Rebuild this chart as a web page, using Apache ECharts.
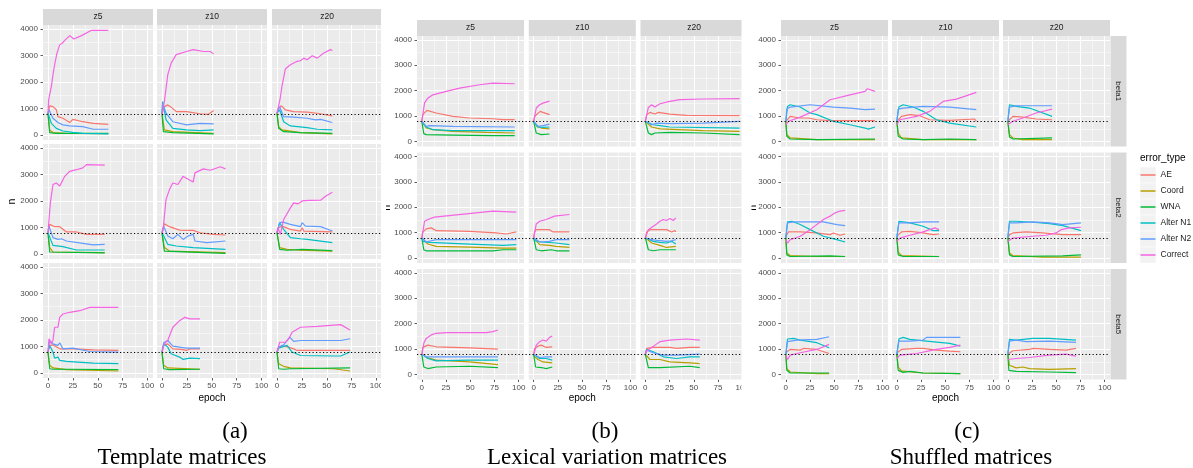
<!DOCTYPE html>
<html>
<head>
<meta charset="utf-8">
<title>error types per epoch</title>
<script src="https://cdn.jsdelivr.net/npm/echarts@6.0.0/dist/echarts.min.js"></script>
<style>
  html, body { margin: 0; padding: 0; background: #fff; }
  #chart { width: 1193px; height: 468px; }
</style>
</head>
<body>
<div id="chart"></div>
<script>
// ---- categories / labels ----
var seriesNames = ['AE', 'Coord', 'WNA', 'Alter N1', 'Alter N2', 'Correct'];
var seriesColors = ['#F8766D', '#B79F00', '#00BA38', '#00BFC4', '#619CFF', '#F564E3'];
var colLabels = ['z5', 'z10', 'z20'];
var rowLabels = ['beta1', 'beta2', 'beta5'];
var xTicks = [0, 25, 50, 75, 100];
var xMinor = [12.5, 37.5, 62.5, 87.5];
var yTicks = [0, 1000, 2000, 3000, 4000];
var yMinor = [500, 1500, 2500, 3500];
var refLevels = [780, 800, 800];
var captionTags = ['(a)', '(b)', '(c)'];
var captionTitles = ['Template matrices', 'Lexical variation matrices', 'Shuffled matrices'];

// facet order: beta1 z5, beta1 z10, beta1 z20, beta2 z5 ... beta5 z20 ; points are [epoch, n]
// ---- (a) template matrices ----
var tmplAE = [
  [[0,800],[1.7,1100],[5,1070],[8.4,950],[10,690],[15,630],[21.9,470],[25,590],[35,500],[45.5,440],[60.6,400]],
  [[0,820],[2.4,1070],[5.8,1135],[9.2,1050],[14.3,880],[24.6,880],[38.2,800],[46.8,780],[51.9,920]],
  [[0,820],[1.7,1010],[4.4,1100],[8.4,950],[16.8,880],[30.3,860],[40.4,820],[55.6,720]],
  [[0,800],[1.7,1115],[6.7,1030],[11.8,1030],[18.5,830],[28.6,830],[38.7,740],[57,740]],
  [[0,800],[2.4,1140],[7.5,1030],[17.7,900],[31.4,890],[38.2,800],[51.9,740],[63.8,715]],
  [[0,800],[1.7,990],[5,1050],[13.5,930],[23.6,865],[25.3,990],[26.9,865],[55.6,830]],
  [[0,790],[1.7,1040],[5,1060],[11.8,910],[25,910],[45.5,875],[70.7,850]],
  [[0,790],[1.7,1040],[5.8,1100],[10.9,910],[19.5,890],[24.6,850],[28,910],[38.2,910]],
  [[0,790],[1.7,975],[6.7,1010],[11.8,975],[16.8,910],[20.2,850],[73.4,850]]
];
var tmplCoord = [
  [[0,820],[1.7,190],[5,90],[18.5,63],[60.6,50]],
  [[0,820],[2.4,190],[10.9,125],[51.9,63]],
  [[0,820],[1.7,315],[5,190],[23.6,90],[55.6,40]],
  [[0,800],[1.7,240],[5,75],[57,50]],
  [[0,800],[2.4,240],[7.5,110],[63.8,50]],
  [[0,800],[2.7,240],[10.1,175],[23.6,140],[55.6,110]],
  [[0,790],[1.7,290],[5,190],[18.5,125],[70.7,75]],
  [[0,790],[1.7,290],[5.8,190],[38.2,140]],
  [[0,790],[1.7,350],[6.7,250],[13.5,190],[57.2,160],[73.4,75]]
];
var tmplWNA = [
  [[0,820],[1.7,90],[8.4,63],[60.6,63]],
  [[0,820],[1.4,125],[10.9,90],[51.9,40]],
  [[0,820],[1.7,250],[6.7,125],[23.6,90],[55.6,63]],
  [[0,800],[1.7,75],[57,40]],
  [[0,800],[2.4,110],[63.8,25]],
  [[0,800],[2.7,175],[10.1,140],[25.3,175],[55.6,125]],
  [[0,790],[1.7,160],[5,140],[18.5,140],[70.7,125]],
  [[0,790],[1.7,160],[7.5,125],[38.2,140]],
  [[0,790],[1.7,160],[6.7,140],[13.5,160],[73.4,190]]
];
var tmplN1 = [
  [[0,820],[3.4,440],[8.4,250],[15,150],[25,100],[35,63],[60.6,40]],
  [[0,820],[0.7,1260],[4.1,570],[10.9,250],[24.6,190],[38.2,165],[51.9,190]],
  [[0,820],[2.7,950],[6.7,500],[13.5,340],[30.3,280],[40.4,215],[55.6,190]],
  [[0,800],[1.7,740],[5,325],[15,275],[28.6,150],[57,150]],
  [[0,800],[1.7,680],[5.8,365],[14.3,300],[31.4,240],[63.8,175]],
  [[0,800],[2.7,1180],[6.7,930],[13.5,615],[23.6,575],[25.3,650],[30.3,550],[55.6,425]],
  [[0,790],[1.7,1040],[5,790],[6.7,560],[10,600],[11.8,475],[18.5,440],[45.5,375],[70.7,350]],
  [[0,790],[1.7,1100],[5.8,975],[9.2,725],[17.7,600],[21.2,510],[28,560],[38.2,540]],
  [[0,790],[1.7,940],[10.1,1040],[15.2,790],[23.6,660],[57.2,640],[64,640],[73.4,790]]
];
var tmplN2 = [
  [[0,820],[1,950],[5,630],[10,470],[15,380],[21.9,340],[35,315],[45.5,215],[60.6,215]],
  [[0,820],[0.7,1200],[4.1,820],[10.9,500],[24.6,380],[38.2,440],[51.9,415]],
  [[0,820],[2.7,1070],[6.7,690],[16.8,670],[30.3,630],[38.7,570],[43.8,590],[55.6,470]],
  [[0,800],[1,1050],[5,615],[10,550],[13.5,575],[18.5,490],[35,400],[45.5,340],[57,365]],
  [[0,800],[1.7,1050],[5.8,680],[10.9,575],[16,740],[21.2,550],[26.3,680],[31.4,740],[33.1,490],[45,425],[63.8,490]],
  [[0,800],[2.7,1180],[6,1200],[13.5,1115],[23.6,1030],[25.3,1180],[28.6,1050],[43.8,1030],[55.6,865]],
  [[0,790],[1.7,1225],[5,1100],[10,1040],[11.8,1140],[15,910],[25,940],[42,810],[70.7,790]],
  [[0,790],[1.7,1140],[5.8,1225],[10.9,1010],[24.6,940],[38.2,940]],
  [[0,790],[1.7,975],[6.7,1060],[10.1,1225],[12.8,1350],[16.8,1190],[23.6,1225],[64,1225],[73.4,1290]]
];
var tmplCorrect = [
  [[0,820],[0.7,1330],[3.4,1830],[5,2270],[6.7,2650],[9,3090],[11.8,3400],[14.5,3470],[16.8,3570],[21.9,3750],[26,3620],[33.7,3750],[43.8,3950],[60.6,3950]],
  [[0,760],[2.4,1260],[5.8,2270],[9.2,2710],[14.3,3030],[24.6,3150],[31.4,3220],[41.6,3150],[48.5,3150],[51.9,3060]],
  [[0,820],[3,1330],[5,1830],[8.4,2490],[13.5,2650],[20.2,2780],[23.6,2800],[26.9,2900],[30.3,2840],[35.4,2990],[40.4,2900],[47.1,3090],[53.9,3220],[55.6,3190]],
  [[0,800],[2.4,1930],[5,2620],[8.4,2680],[10,2710],[11.8,2560],[16.8,2930],[21.9,3120],[28.6,3180],[35,3250],[38.7,3370],[57,3350]],
  [[0,780],[1,900],[4.1,2060],[7.5,2430],[10.9,2680],[16,2620],[21.2,2930],[28,2780],[31.4,2720],[33.1,3060],[41.6,3210],[48.5,3160],[58.7,3290],[63.8,3210]],
  [[0,800],[1,990],[3.4,740],[6.7,1300],[13.5,1740],[16.8,1930],[21.2,1890],[22.9,1830],[25.3,2000],[32,2020],[43.8,2030],[48.8,2180],[55.6,2330]],
  [[0,790],[1,1290],[3.4,1100],[5,1225],[6.7,1725],[8.4,1790],[10,1725],[11.8,2100],[15,2225],[21.9,2290],[32,2350],[42,2475],[70.7,2475]],
  [[0,790],[2.4,1100],[5.8,1225],[10.9,1725],[17.7,1975],[22.9,2100],[28,2040],[38.2,2040]],
  [[0,790],[1,810],[2.7,1160],[8.4,1160],[11.8,1290],[15.2,1540],[23.6,1725],[40.4,1760],[64,1825],[73.4,1625]]
];

// ---- (b) lexical variation matrices ----
var lexAE = [
  [[0,800],[1,1060],[5.2,1230],[14.8,1125],[32,995],[49.3,930],[73.4,900],[83.8,865],[95.9,865]],
  [[0,800],[1,965],[2.7,1060],[4.5,1100],[6.8,1190],[9.6,1150],[16.4,1060]],
  [[0,800],[1.4,1060],[4.8,1150],[9.9,1085],[13.4,1150],[25.3,1085],[42.5,1030],[97.3,1020]],
  [[0,800],[1,1030],[4.5,1150],[9.7,1190],[14.8,1080],[49.3,1055],[76.9,990],[87.2,950],[97.6,1030]],
  [[0,800],[1,1030],[2.7,1120],[16.4,1120],[19.9,1030],[37,1030]],
  [[0,800],[1.4,1030],[4.8,1120],[21.9,1120],[27.1,1030],[30.5,1080],[31.5,1030]],
  [[0,800],[1,1070],[6.2,1160],[14.8,1095],[49.3,1055],[78.6,1000]],
  [[0,800],[1,1030],[4.5,1120],[7.9,1160],[13,1070],[19.2,1095]],
  [[0,800],[1.4,1030],[8.2,1070],[25.3,1070],[32.2,1030],[45.9,1070],[56.2,1070]]
];
var lexCoord = [
  [[0,800],[1,730],[4.5,535],[11.4,470],[32,405],[66.6,365],[95.9,340]],
  [[0,800],[3.4,600],[7.9,535],[16.4,500]],
  [[0,800],[1.4,730],[6.5,575],[15.1,500],[59.6,430],[97.3,405]],
  [[0,800],[1,725],[6.2,555],[14.8,460],[49.3,435],[83.8,395],[97.6,395]],
  [[0,800],[1,725],[6.2,530],[16.4,500],[23.3,460],[37,420]],
  [[0,800],[1.4,725],[6.5,595],[15.1,500],[21.9,420],[31.5,460]],
  [[0,800],[1,765],[6.2,660],[14.8,570],[49.3,500],[78.6,395]],
  [[0,800],[1,700],[4.5,595],[9.6,500],[19.2,460]],
  [[0,800],[1.4,765],[4.8,595],[15.1,595],[25.3,500],[45.9,460],[56.2,435]]
];
var lexWNA = [
  [[0,800],[2,315],[4.5,275],[32,260],[73.4,235],[75.2,210],[95.9,235]],
  [[0,800],[2.7,340],[4.5,275],[7.9,275],[16.4,300]],
  [[0,800],[0.7,730],[3.1,340],[6.5,275],[9.9,340],[25.3,365],[59.6,340],[97.3,275]],
  [[0,800],[2,330],[4.5,290],[73.4,290],[83.8,330],[97.6,330]],
  [[0,800],[2.7,330],[7.9,290],[18.2,330],[23.3,290],[37,290]],
  [[0,800],[3.1,330],[8.2,290],[15.1,330],[31.5,330]],
  [[0,800],[2,300],[6.2,240],[14.8,300],[49.3,330],[78.6,280]],
  [[0,800],[2,300],[7.9,280],[13,240],[19.2,300]],
  [[0,800],[3.1,280],[15.1,280],[45.9,330],[56.2,280]]
];
var lexN1 = [
  [[0,800],[4.5,575],[11.4,470],[32,430],[95.9,430]],
  [[0,800],[1,760],[4.5,575],[9.6,560],[16.4,575]],
  [[0,800],[1.4,760],[8.2,665],[15.1,630],[25.3,575],[97.3,535]],
  [[0,800],[1,660],[7.9,620],[49.3,555],[83.8,500],[97.6,530]],
  [[0,800],[1,685],[7.9,635],[23.3,595],[37,530]],
  [[0,800],[1.4,765],[8.2,660],[15.1,620],[21.9,595],[27.1,660],[31.5,555]],
  [[0,800],[1,765],[6.2,635],[14.8,540],[49.3,570],[78.6,570]],
  [[0,800],[1,765],[6.2,635],[13,635],[19.2,570]],
  [[0,800],[1.4,990],[8.2,900],[18.5,700],[32.2,635],[45.9,700],[56.2,700]]
];
var lexN2 = [
  [[0,800],[4.5,600],[7.9,630],[32,600],[95.9,575]],
  [[0,800],[4.5,600],[9.6,630],[16.4,690]],
  [[0,800],[1.4,730],[6.5,665],[11.6,730],[25.3,705],[59.6,730],[97.3,800]],
  [[0,800],[1,725],[4.5,635],[14.8,725],[97.6,725]],
  [[0,800],[1,725],[6.2,635],[16.4,660],[23.3,725],[37,725]],
  [[0,800],[1.4,790],[6.5,725],[15.1,685],[21.9,660],[27.1,685],[31.5,725]],
  [[0,800],[1,830],[4.5,700],[78.6,700]],
  [[0,800],[1,790],[6.2,675],[13,700],[19.2,700]],
  [[0,800],[1.4,965],[8.2,860],[18.5,765],[32.2,765],[56.2,805]]
];
var lexCorrect = [
  [[0,800],[2.8,1520],[6.2,1710],[11.4,1840],[25.2,1975],[39,2100],[59.7,2235],[73.4,2300],[75.2,2235],[95.9,2275]],
  [[0,800],[1,860],[2.7,1320],[6.2,1450],[9.6,1515],[16.4,1595]],
  [[0,800],[0.7,860],[3.1,1345],[6.5,1450],[9.9,1360],[15.1,1490],[25.3,1580],[35.6,1650],[59.6,1675],[97.3,1690]],
  [[0,790],[2.8,1450],[6.2,1520],[13.1,1610],[73.4,1850],[97.6,1810]],
  [[0,790],[2.7,1345],[6.2,1450],[13,1520],[21.6,1650],[23.3,1585],[37,1715]],
  [[0,790],[3.1,1120],[8.2,1250],[11.6,1345],[15.1,1450],[18.5,1520],[21.9,1480],[25.3,1560],[28.8,1480],[31.5,1585]],
  [[0,765],[2,1230],[4.5,1425],[9.7,1560],[14.8,1625],[25.2,1650],[66.6,1650],[73.4,1690],[78.6,1755]],
  [[0,800],[1,900],[2.7,1160],[6.2,1295],[9.6,1360],[13,1320],[16.4,1465],[19.2,1520]],
  [[0,800],[0.7,900],[4.8,1030],[9.9,1160],[15.1,1295],[25.3,1360],[42.5,1400],[56.2,1360]]
];

// ---- (c) shuffled matrices ----
var shufAE = [
  [[0,800],[1,860],[4.5,995],[14.8,930],[23.4,930],[32,860],[45.7,825],[92.1,825]],
  [[0,800],[1.4,860],[4.8,995],[13.4,1060],[23.7,1020],[34,860],[54.6,835],[80.4,890],[82.1,800]],
  [[0,800],[1.7,860],[5.2,995],[15.5,965],[29.2,890],[45.7,860]],
  [[0,800],[1,925],[2.7,1030],[14.8,1030],[32,990],[45.7,925],[49.1,990],[56,900],[61.2,950]],
  [[0,800],[1.4,925],[4.8,1030],[13.4,1055],[27.1,990],[37.5,925],[43.6,950]],
  [[0,800],[1.7,925],[5.2,990],[18.9,1030],[36.1,990],[56.7,925],[75.6,925]],
  [[0,800],[1,900],[4.5,990],[14.8,965],[18.2,1030],[32,990],[44.7,830]],
  [[0,800],[1.4,900],[4.8,990],[20.3,1030],[27.1,1030],[40.9,965],[54.6,925],[65.6,900]],
  [[0,800],[1,860],[5.2,940],[22.3,990],[25.8,1030],[43,990],[60.1,965],[70.4,1030]]
];
var shufCoord = [
  [[0,800],[1,275],[4.5,145],[32,80],[92.1,80]],
  [[0,800],[1.4,340],[4.8,145],[27.1,80],[82.1,80]],
  [[0,800],[1.7,275],[5.2,145],[15.5,80],[45.7,80]],
  [[0,800],[1,200],[4.5,105],[32,65],[61.2,65]],
  [[0,800],[1.4,240],[4.8,105],[43.6,65]],
  [[0,800],[1.7,200],[5.2,105],[36.1,40],[75.6,40]],
  [[0,800],[1,240],[4.5,105],[32,40],[44.7,40]],
  [[0,800],[1.4,300],[4.8,145],[27.1,65],[65.6,40]],
  [[0,800],[1.7,370],[8.6,265],[15.5,300],[22.3,240],[43,210],[70.4,240]]
];
var shufWNA = [
  [[0,800],[1,210],[4.5,105],[32,80],[92.1,105]],
  [[0,800],[1.4,210],[6.5,105],[27.1,80],[54.6,105],[82.1,80]],
  [[0,800],[1.7,185],[5.2,105],[45.7,145]],
  [[0,800],[1,130],[4.5,65],[45.7,90],[61.2,65]],
  [[0,800],[1.4,130],[6.5,65],[43.6,65]],
  [[0,800],[1.7,130],[5.2,65],[56.7,90],[75.6,130]],
  [[0,800],[1,170],[4.5,65],[44.7,65]],
  [[0,800],[1.4,170],[6.5,90],[13.4,130],[27.1,65],[65.6,40]],
  [[0,800],[1,170],[8.6,130],[43,105],[70.4,80]]
];
var shufN1 = [
  [[0,800],[1.7,1385],[4.5,1450],[14.8,1360],[25.1,1125],[32,1060],[49.1,800],[66.3,665],[81.8,535],[85.2,495],[92.1,575]],
  [[0,800],[2.1,1360],[6.5,1450],[16.8,1360],[27.1,1190],[40.9,860],[54.6,730],[82.1,575]],
  [[0,800],[1.7,1450],[8.6,1385],[22.3,1320],[45.7,995]],
  [[0,800],[1.7,1425],[6.2,1450],[14.8,1320],[25.1,1120],[38.8,860],[52.6,725],[61.2,635]],
  [[0,800],[2.1,1450],[6.5,1425],[13.4,1385],[27.1,1255],[37.5,1080],[43.6,1080]],
  [[0,800],[1.7,1450],[8.6,1450],[25.8,1410],[43,1360],[56.7,1280],[75.6,1080]],
  [[0,800],[1.7,1400],[7.9,1425],[14.8,1360],[32,1255],[44.7,1055]],
  [[0,800],[2.1,1400],[6.5,1465],[13.4,1385],[30.6,1320],[54.6,1230],[65.6,1120]],
  [[0,800],[1.7,1385],[8.6,1360],[25.8,1425],[43,1425],[70.4,1360]]
];
var shufN2 = [
  [[0,800],[1,1280],[4.5,1360],[25.1,1450],[49.1,1360],[66.3,1320],[81.8,1255],[83.5,1230],[92.1,1280]],
  [[0,800],[1.4,1280],[6.5,1320],[27.1,1385],[54.6,1360],[82.1,1255]],
  [[0,800],[1.7,1360],[8.6,1410],[29.2,1410],[45.7,1410]],
  [[0,800],[1.7,1385],[7.9,1425],[38.8,1425],[52.6,1320],[61.2,1280]],
  [[0,800],[2.1,1385],[13.4,1385],[27.1,1425],[43.6,1425]],
  [[0,800],[1.7,1385],[8.6,1385],[25.8,1425],[43,1385],[56.7,1320],[75.6,1385]],
  [[0,800],[1.7,1295],[11.3,1360],[32,1385],[44.7,1490]],
  [[0,800],[2.1,1320],[13.4,1320],[27.1,1360],[30.6,1465],[65.6,1465]],
  [[0,800],[1.7,1320],[8.6,1360],[18.9,1295],[43,1320],[70.4,1270]]
];
var shufCorrect = [
  [[0,665],[2.7,800],[14.8,965],[32,1255],[45.7,1645],[66.3,1840],[81.8,1975],[84.2,2080],[92.1,1975]],
  [[0,665],[3.1,860],[20.3,995],[34,1190],[47.8,1580],[61.5,1670],[82.1,1935]],
  [[0,665],[5.2,800],[15.5,930],[29.2,1125],[45.7,1280]],
  [[0,725],[1.7,595],[4.5,725],[14.8,860],[25.1,1120],[38.8,1520],[45.7,1650],[50.9,1780],[56,1850],[61.2,1875]],
  [[0,660],[3.1,790],[13.4,900],[27.1,1030],[39.2,1190],[43.6,1120]],
  [[0,660],[5.2,790],[25.8,860],[39.5,900],[49.8,990],[55,1120],[63.6,1190],[75.6,1215]],
  [[0,765],[1.7,595],[4.5,765],[14.8,860],[32,990],[44.7,1190]],
  [[0,635],[3.1,765],[20.3,830],[40.9,990],[54.6,1070],[65.6,1160]],
  [[0,595],[8.6,635],[22.3,675],[43,765],[60.1,805],[70.4,725]]
];

// ---- layout ----
var FONT = 'Liberation Sans, Arial, sans-serif';
var SERIF = 'Liberation Serif, Times New Roman, serif';
var X_MIN = -5, X_MAX = 105.5;
var Y_MIN = -190, Y_MAX = 4150;

var panels = [
  { data: [tmplAE, tmplCoord, tmplWNA, tmplN1, tmplN2, tmplCorrect],
    cols: [43, 157, 272], colW: 110, rows: [25, 144, 263], rowH: 115, stripTop: 9,
    nX: 12.5, tagX: 235, titleX: 182, rightStrip: false },
  { data: [lexAE, lexCoord, lexWNA, lexN1, lexN2, lexCorrect],
    cols: [417, 528.8, 640.5], colW: 107, rows: [36, 152.5, 269], rowH: 110.5, stripTop: 20,
    nX: 387, tagX: 605, titleX: 607, rightStrip: false },
  { data: [shufAE, shufCoord, shufWNA, shufN1, shufN2, shufCorrect],
    cols: [781, 892, 1003], colW: 107, rows: [36, 152.5, 269], rowH: 110.5, stripTop: 20,
    nX: 753, tagX: 967, titleX: 971, rightStrip: true }
];

var grids = [], xAxes = [], yAxes = [], series = [], graphics = [];

// white background grid lines, drawn as mark lines through the axes
var gridLineData = [];
xMinor.forEach(function (v) { gridLineData.push({ xAxis: v, lineStyle: { width: 0.5 } }); });
yMinor.forEach(function (v) { gridLineData.push({ yAxis: v, lineStyle: { width: 0.5 } }); });
xTicks.forEach(function (v) { gridLineData.push({ xAxis: v, lineStyle: { width: 1 } }); });
yTicks.forEach(function (v) { gridLineData.push({ yAxis: v, lineStyle: { width: 1 } }); });

function plain(v) { return String(v); }

function txt(text, x, y, size, opts) {
  opts = opts || {};
  return {
    type: 'text', x: x, y: y, rotation: opts.rotation || 0, z: 20,
    style: {
      text: text, fill: opts.color || '#000', fontSize: size,
      fontFamily: opts.family || FONT,
      align: opts.align || 'center', verticalAlign: 'middle'
    }
  };
}

panels.forEach(function (pn, p) {
  for (var k = 0; k < 9; k++) {
    var r = Math.floor(k / 3), c = k % 3;
    var g = grids.length;
    grids.push({ left: pn.cols[c], top: pn.rows[r], width: pn.colW, height: pn.rowH,
      show: true, backgroundColor: '#EBEBEB', borderWidth: 0 });
    xAxes.push({
      gridIndex: g, type: 'value', min: X_MIN, max: X_MAX, show: r === 2,
      axisLine: { show: false, onZero: false }, splitLine: { show: false },
      axisTick: { show: true, customValues: xTicks, length: 2.5, lineStyle: { color: '#333', width: 0.8 } },
      axisLabel: { show: true, customValues: xTicks, formatter: plain, margin: 4, fontSize: 8, color: '#4D4D4D', fontFamily: FONT }
    });
    yAxes.push({
      gridIndex: g, type: 'value', min: Y_MIN, max: Y_MAX, show: c === 0,
      axisLine: { show: false, onZero: false }, splitLine: { show: false },
      axisTick: { show: true, customValues: yTicks, length: 2.5, lineStyle: { color: '#333', width: 0.8 } },
      axisLabel: { show: true, customValues: yTicks, formatter: plain, margin: 5, fontSize: 8, color: '#4D4D4D', fontFamily: FONT }
    });
    // background grid first (mark lines default to z 5, so push them below the data)
    series.push({
      type: 'line', xAxisIndex: g, yAxisIndex: g, data: [], z: 1, silent: true,
      markLine: { z: 1, symbol: 'none', silent: true, animation: false, label: { show: false },
        lineStyle: { color: '#FFFFFF', type: 'solid' }, data: gridLineData }
    });
    pn.data.forEach(function (arr, s) {
      series.push({
        type: 'line', name: seriesNames[s], xAxisIndex: g, yAxisIndex: g, data: arr[k],
        symbol: 'none', z: 3, silent: true,
        lineStyle: { width: 1.2, color: seriesColors[s] }, itemStyle: { color: seriesColors[s] }
      });
    });
  }
  // dotted reference line, one grid per facet row spanning all columns
  var fullW = pn.cols[2] + pn.colW - pn.cols[0];
  for (var r2 = 0; r2 < 3; r2++) {
    var g2 = grids.length;
    grids.push({ left: pn.cols[0], top: pn.rows[r2], width: fullW, height: pn.rowH, show: false });
    xAxes.push({ gridIndex: g2, type: 'value', min: 0, max: 1, show: false });
    yAxes.push({ gridIndex: g2, type: 'value', min: Y_MIN, max: Y_MAX, show: false });
    series.push({
      type: 'line', xAxisIndex: g2, yAxisIndex: g2, data: [], z: 10, silent: true,
      markLine: { z: 10, symbol: 'none', silent: true, animation: false, label: { show: false },
        lineStyle: { color: '#000', type: [1.2, 2.3], width: 1 }, data: [{ yAxis: refLevels[p] }] }
    });
  }

  // facet strips
  pn.cols.forEach(function (x, c) {
    graphics.push({ type: 'rect', z: 2, shape: { x: x, y: pn.stripTop, width: pn.colW, height: pn.rows[0] - pn.stripTop },
      style: { fill: '#D9D9D9' } });
    graphics.push(txt(colLabels[c], x + pn.colW / 2, (pn.stripTop + pn.rows[0]) / 2, 8.5, { color: '#1A1A1A' }));
  });
  if (pn.rightStrip) {
    var sx = pn.cols[2] + pn.colW + 0.5;
    pn.rows.forEach(function (y, r) {
      graphics.push({ type: 'rect', z: 2, shape: { x: sx, y: y, width: 16, height: pn.rowH }, style: { fill: '#D9D9D9' } });
      graphics.push(txt(rowLabels[r], sx + 8, y + pn.rowH / 2, 8, { color: '#1A1A1A', rotation: -Math.PI / 2 }));
    });
  }
  // axis titles and captions
  graphics.push(txt('n', pn.nX, pn.rows[1] + pn.rowH / 2, 10.5, { rotation: Math.PI / 2 }));
  graphics.push(txt('epoch', pn.cols[1] + pn.colW / 2, 398, 10));
  graphics.push(txt(captionTags[p], pn.tagX, 432, 23, { family: SERIF }));
  graphics.push(txt(captionTitles[p], pn.titleX, 458, 23, { family: SERIF }));
});

// legend keys background + title
seriesNames.forEach(function (n, i) {
  graphics.push({ type: 'rect', z: 0, shape: { x: 1140, y: 167 + 16 * i, width: 16, height: 16 },
    style: { fill: '#F2F2F2', stroke: '#FFFFFF', lineWidth: 0.5 } });
});
graphics.push(txt('error_type', 1140, 158, 10, { align: 'left' }));

// the panels are cropped in the source figure
graphics.push({ type: 'rect', z: 50, shape: { x: 381, y: 0, width: 5, height: 415 }, style: { fill: '#FFFFFF' } });
graphics.push({ type: 'rect', z: 50, shape: { x: 741.5, y: 0, width: 10, height: 415 }, style: { fill: '#FFFFFF' } });

var chart = echarts.init(document.getElementById('chart'), null, { renderer: 'canvas' });
chart.setOption({
  animation: false,
  backgroundColor: '#FFFFFF',
  grid: grids,
  xAxis: xAxes,
  yAxis: yAxes,
  legend: {
    data: seriesNames, orient: 'vertical', left: 1140.5, top: 167, padding: 0, itemGap: 0,
    itemWidth: 15, itemHeight: 1.5, icon: 'rect', selectedMode: false,
    textStyle: { fontSize: 8.5, color: '#1A1A1A', lineHeight: 16, fontFamily: FONT }
  },
  graphic: graphics,
  series: series
});
</script>
</body>
</html>
